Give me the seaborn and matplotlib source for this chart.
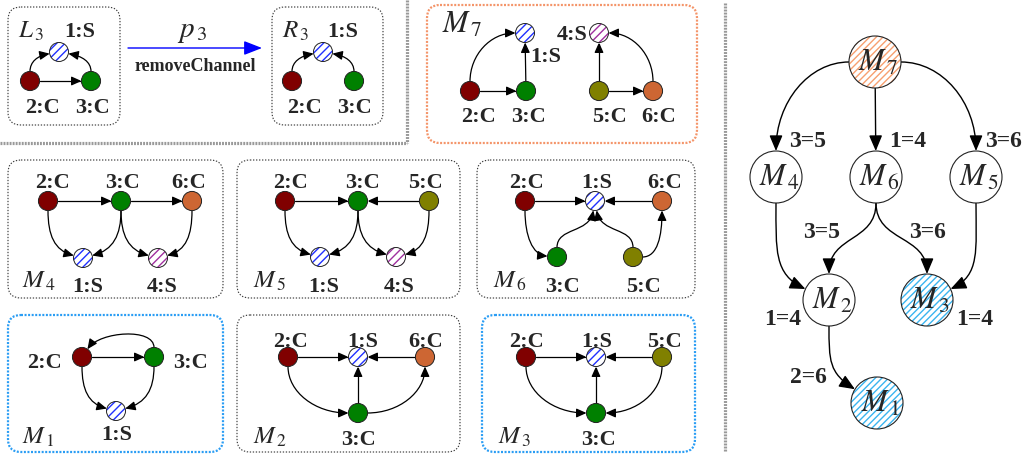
"""
Regra p3 (removeChannel), modelos M1..M7 e árvore de redução.
Diagrama desenhado num único eixo em coordenadas de pixel.
"""
import numpy as np
import pandas as pd
import matplotlib
matplotlib.use("Agg")
import matplotlib.pyplot as plt
import seaborn as sns
from matplotlib.patches import Circle, FancyArrowPatch, FancyBboxPatch, ArrowStyle
from matplotlib.path import Path

# ---------------- dados do diagrama ----------------
# cores dos canais (C) e hachura dos serviços (S)
C_COLORS = {"2:C": "#800000", "3:C": "#008000", "5:C": "#808000", "6:C": "#cd6633"}
S_HATCH = {"1:S": "#2030ff", "4:S": "#a0309f"}

PANEL_NAMES = ["L3", "R3", "M7", "M4", "M5", "M6", "M1", "M2", "M3"]
PANEL_TITLES = [r"$L_{\,3}$", r"$R_{\,3}$", r"$M_{\,7}$", r"$M_{\,4}$", r"$M_{\,5}$",
                r"$M_{\,6}$", r"$M_{\,1}$", r"$M_{\,2}$", r"$M_{\,3}$"]
PANEL_FRAME = ["black", "black", "orange", "black", "black", "black", "blue", "black", "blue"]

EDGES = {
    "L3": [("2:C", "3:C"), ("2:C", "1:S"), ("3:C", "1:S")],
    "R3": [("2:C", "1:S"), ("3:C", "1:S")],
    "M7": [("2:C", "3:C"), ("3:C", "1:S"), ("2:C", "1:S"),
           ("5:C", "6:C"), ("5:C", "4:S"), ("6:C", "4:S")],
    "M4": [("2:C", "3:C"), ("3:C", "6:C"), ("2:C", "1:S"),
           ("3:C", "1:S"), ("3:C", "4:S"), ("6:C", "4:S")],
    "M5": [("2:C", "3:C"), ("5:C", "3:C"), ("2:C", "1:S"),
           ("3:C", "1:S"), ("3:C", "4:S"), ("5:C", "4:S")],
    "M6": [("2:C", "1:S"), ("6:C", "1:S"), ("2:C", "3:C"),
           ("3:C", "1:S"), ("5:C", "1:S"), ("5:C", "6:C")],
    "M1": [("2:C", "3:C"), ("3:C", "2:C"), ("2:C", "1:S"), ("3:C", "1:S")],
    "M2": [("2:C", "1:S"), ("6:C", "1:S"), ("3:C", "1:S"), ("2:C", "3:C"), ("3:C", "6:C")],
    "M3": [("2:C", "1:S"), ("5:C", "1:S"), ("3:C", "1:S"), ("2:C", "3:C"), ("5:C", "3:C")],
}

RULE_NAME = r"$p_{\,3}$"
RULE_ACTION = "removeChannel"

TREE_NODES = ["M7", "M4", "M6", "M5", "M2", "M3", "M1"]
TREE_TITLES = [r"$M_{\,7}$", r"$M_{\,4}$", r"$M_{\,6}$", r"$M_{\,5}$",
               r"$M_{\,2}$", r"$M_{\,3}$", r"$M_{\,1}$"]
TREE_MARK = {"M7": "orange", "M3": "blue", "M1": "blue"}
TREE_EDGES = [("M7", "M4"), ("M7", "M6"), ("M7", "M5"), ("M4", "M2"),
              ("M6", "M2"), ("M6", "M3"), ("M5", "M3"), ("M2", "M1")]
TREE_EDGE_LABELS = ["3=5", "1=4", "3=6", "1=4", "3=5", "3=6", "1=4", "2=6"]

# ---------------- layout (pixels, y para baixo) ----------------
BOX = {"L3": (8, 7, 120, 125), "R3": (272, 7, 383, 125), "M7": (427, 5, 697, 143),
       "M4": (8, 160, 223, 298), "M5": (237, 160, 460, 298), "M6": (477, 160, 695, 298),
       "M1": (8, 315, 223, 452), "M2": (237, 315, 460, 452), "M3": (482, 315, 695, 452)}
TITLE_POS = {"L3": (18, 38), "R3": (282, 38), "M7": (442, 33), "M4": (22, 288),
             "M5": (253, 288), "M6": (493, 288), "M1": (22, 444), "M2": (253, 444),
             "M3": (498, 444)}
# nó: (x, y, x do rótulo, linha de base do rótulo)
POS = {
    "L3": {"1:S": (59, 52, 80, 37), "2:C": (30, 81, 42, 113), "3:C": (91, 81, 92, 113)},
    "R3": {"1:S": (323, 52, 343, 37), "2:C": (292, 81, 304, 113), "3:C": (354, 81, 354, 113)},
    "M7": {"1:S": (525, 33, 546, 62), "4:S": (599, 33, 572, 40), "2:C": (470, 91, 478, 122),
           "3:C": (526, 91, 529, 122), "5:C": (599, 91, 609, 122), "6:C": (653, 91, 659, 122)},
    "M4": {"2:C": (48, 201, 52, 188), "3:C": (121, 201, 122, 188), "6:C": (192, 201, 189, 188),
           "1:S": (83, 258, 88, 292), "4:S": (158, 258, 162, 292)},
    "M5": {"2:C": (285, 201, 290, 188), "3:C": (358, 201, 362, 188), "5:C": (429, 201, 425, 188),
           "1:S": (320, 257, 324, 292), "4:S": (396, 257, 399, 292)},
    "M6": {"2:C": (525, 201, 526, 188), "1:S": (595, 201, 597, 188), "6:C": (662, 201, 665, 188),
           "3:C": (557, 257, 563, 292), "5:C": (633, 257, 643, 292)},
    "M1": {"2:C": (82, 357, 45, 368), "3:C": (154, 357, 191, 368), "1:S": (116, 411, 117, 440)},
    "M2": {"2:C": (288, 357, 290, 347), "1:S": (358, 357, 363, 347), "6:C": (425, 357, 426, 347),
           "3:C": (358, 413, 358, 445)},
    "M3": {"2:C": (526, 357, 526, 347), "1:S": (596, 357, 597, 347), "5:C": (662, 357, 664, 347),
           "3:C": (596, 413, 599, 445)},
}
# ângulos de saída / chegada (graus, y para baixo); None = reta
BENDS = {
    "L3": [None, (-90, -10), (-90, 190)],
    "R3": [(-90, -10), (-90, 190)],
    "M7": [None, None, (-90, 0), None, None, (-90, 180)],
    "M4": [None, None, (90, 15), (90, 165), (90, 15), (90, 165)],
    "M5": [None, None, (90, 15), (90, 165), (90, 15), (90, 165)],
    "M6": [None, None, (90, 5), (-90, -80), (-90, -100), (0, -90)],
    "M1": [None, (-90, 125), (90, 15), (90, 165)],
    "M2": [None, None, None, (90, 0), (0, -90)],
    "M3": [None, None, None, (90, 0), (90, 180)],
}
TREE_POS = {"M7": (875, 62), "M4": (776, 177), "M6": (876, 177), "M5": (976, 177),
            "M2": (829, 300), "M3": (927, 300), "M1": (877, 403)}
TREE_BENDS = [(180, 90), None, (0, 90), (90, 25), (90, 90), (90, 90), (90, 155), (90, 32)]
TREE_LABEL_POS = [(808, 147), (908, 147), (1004, 147), (783, 325),
                  (822, 238), (927, 238), (975, 325), (808, 383)]

R_SMALL = 9.5
R_TREE = 26
FRAME_COLORS = {"black": "#333333", "orange": "#f4956a", "blue": "#2a9df4"}
MARK_COLORS = {"orange": "#f7a070", "blue": "#3ab4f0"}

sns.set_theme(style="white")
plt.rcParams["font.family"] = ["Liberation Serif", "DejaVu Serif"]
plt.rcParams["mathtext.fontset"] = "stix"
plt.rcParams["hatch.linewidth"] = 1.0

fig = plt.figure(figsize=(10.26, 4.57), dpi=100)
ax = fig.add_axes([0, 0, 1, 1])


def draw_edge(p0, p1, r0, r1, bend, style, lw=0.9, k=0.55):
    p0 = np.asarray(p0, float)
    p1 = np.asarray(p1, float)
    if bend is None:
        d = (p1 - p0) / np.linalg.norm(p1 - p0)
        s, e = p0 + r0 * d, p1 - r1 * d
        path = Path([s, e], [Path.MOVETO, Path.LINETO])
    else:
        a0, a1 = np.radians(bend)
        d0 = np.array([np.cos(a0), np.sin(a0)])
        d1 = np.array([np.cos(a1), np.sin(a1)])
        s, e = p0 + r0 * d0, p1 - r1 * d1
        L = np.linalg.norm(e - s)
        l0 = max(k * abs(np.dot(e - s, d0)), 0.3 * L)
        l1 = max(k * abs(np.dot(e - s, d1)), 0.3 * L)
        path = Path([s, s + d0 * l0, e - d1 * l1, e],
                    [Path.MOVETO, Path.CURVE4, Path.CURVE4, Path.CURVE4])
    ax.add_patch(FancyArrowPatch(path=path, arrowstyle=style, mutation_scale=10,
                                 color="black", lw=lw, zorder=2))


small_head = ArrowStyle("-|>", head_length=0.6, head_width=0.27)
big_head = ArrowStyle("-|>", head_length=0.95, head_width=0.4)

# ---- painéis ----
rows = []
for name, title, frame in zip(PANEL_NAMES, PANEL_TITLES, PANEL_FRAME):
    x0, y0, x1, y1 = BOX[name]
    if frame == "black":
        ax.add_patch(FancyBboxPatch((x0, y0), x1 - x0, y1 - y0,
                                    boxstyle="round,pad=0,rounding_size=13", fill=False,
                                    ec=FRAME_COLORS[frame], lw=0.8, ls=(0, (1.2, 1.5))))
    else:
        ax.add_patch(FancyBboxPatch((x0, y0), x1 - x0, y1 - y0,
                                    boxstyle="round,pad=0,rounding_size=13", fill=False,
                                    ec=FRAME_COLORS[frame], lw=1.6, ls=(0, (0.9, 0.7))))
    tx, ty = TITLE_POS[name]
    ax.text(tx, ty, title, fontsize=22 if name == "M7" else 18, ha="left", va="baseline")

    nodes = POS[name]
    for (a, b), bend in zip(EDGES[name], BENDS[name]):
        draw_edge(nodes[a][:2], nodes[b][:2], R_SMALL, R_SMALL, bend, small_head)

    for node, (x, y, lx, ly) in nodes.items():
        ax.text(lx, ly, node, fontsize=16, fontweight="bold", ha="center", va="baseline")
        if node in S_HATCH:
            ax.add_patch(Circle((x, y), R_SMALL, fc="white", ec=S_HATCH[node],
                                hatch="////", lw=0, zorder=3))
            ax.add_patch(Circle((x, y), R_SMALL, fill=False, ec="#222222", lw=0.7, zorder=4))
        else:
            rows.append({"x": x, "y": y, "node": node})

df_c = pd.DataFrame(rows)
sns.scatterplot(data=df_c, x="x", y="y", hue="node", palette=C_COLORS, s=190,
                edgecolor="#222222", linewidth=0.7, legend=False, ax=ax, zorder=3)

# ---- seta da regra p3 ----
ax.add_patch(FancyArrowPatch((128, 48), (262, 48), arrowstyle=ArrowStyle(
    "-|>", head_length=1.1, head_width=0.43), mutation_scale=10, color="#0000ff",
    lw=1.0, shrinkA=0, shrinkB=0))
ax.text(192, 37, RULE_NAME, fontsize=21, ha="center", va="baseline")
ax.text(195, 71, RULE_ACTION, fontsize=13, fontweight="bold", ha="center", va="baseline")

# ---- separadores ----
sep = dict(color="#999999", lw=2.3, ls=(0, (0.6, 0.35)))
ax.plot([0, 407], [143, 143], **sep)
ax.plot([407, 407], [0, 143], **sep)
ax.plot([725, 725], [3, 452], **sep)

# ---- árvore ----
for (a, b), bend, lab, (lx, ly) in zip(TREE_EDGES, TREE_BENDS, TREE_EDGE_LABELS, TREE_LABEL_POS):
    draw_edge(TREE_POS[a], TREE_POS[b], R_TREE, R_TREE, bend, big_head, lw=1.0)
    ax.text(lx, ly, lab, fontsize=17, fontweight="bold", ha="center", va="baseline")

for node, title in zip(TREE_NODES, TREE_TITLES):
    x, y = TREE_POS[node]
    if node in TREE_MARK:
        ax.add_patch(Circle((x, y), R_TREE, fc="white", ec=MARK_COLORS[TREE_MARK[node]],
                            hatch="/////", lw=0, zorder=3))
    else:
        ax.add_patch(Circle((x, y), R_TREE, fc="white", lw=0, zorder=3))
    ax.add_patch(Circle((x, y), R_TREE, fill=False, ec="#222222", lw=0.8, zorder=4))
    ax.text(x + 3, y + 1, title, fontsize=22, ha="center", va="center", zorder=5)

ax.set_xlim(0, 1026)
ax.set_ylim(457, 0)
ax.axis("off")

fig.savefig("out.png", dpi=100, facecolor="white")
